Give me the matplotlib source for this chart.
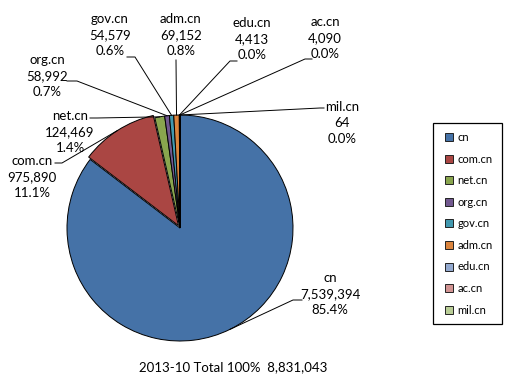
import numpy as np
import matplotlib.pyplot as plt
from matplotlib.lines import Line2D

names = ["cn", "com.cn", "net.cn", "org.cn", "gov.cn", "adm.cn", "edu.cn", "ac.cn", "mil.cn"]
counts = [7539394, 975890, 124469, 58992, 54579, 69152, 4413, 4090, 64]
colors = ["#4572A7", "#AA4643", "#89A54E", "#71588F", "#4198AF",
          "#DB843D", "#93A9CF", "#D19392", "#B9CD96"]
total_label = "2013-10 Total 100%  8,831,043"

# label layout in pixels (text centre, leader tick start/end)
label_pos = [(330, 294), (32, 177), (70, 132), (47, 76), (110, 35),
             (181, 35), (252, 39), (325, 38), (342, 123)]
ticks = [((302, 300), (293, 300)), ((55, 163), (62, 163)), ((90, 118), (97, 118)),
         ((67, 81), (77, 81)), ((127, 57), (135, 57)), ((176, 60), (176, 60)),
         ((237, 61), (230, 61)), ((312, 59), (305, 59)), ((324, 108), (320, 108))]

W, H = 516, 380
cx, cy, R = 180, 228, 113


def px(x, y):
    return (x - cx) / R, (cy - y) / R


plt.rcParams['font.family'] = ['Lato', 'DejaVu Sans']
fig = plt.figure(figsize=(W / 100, H / 100), dpi=100)
ax = fig.add_axes([0, 0, 1, 1])

explode = [0, 0.025, 0, 0, 0, 0, 0, 0, 0]
wedges, _ = ax.pie(counts, colors=colors, startangle=90, counterclock=False,
                   explode=explode, radius=1, center=(0, 0),
                   wedgeprops=dict(edgecolor="black", linewidth=0.7))
ax.set_xlim(-cx / R, (W - cx) / R)
ax.set_ylim((cy - H) / R, cy / R)
ax.axis("off")

tot = sum(counts)
for w, name, c, pos, tk in zip(wedges, names, counts, label_pos, ticks):
    pct = 100.0 * c / tot
    txt = "%s\n%s\n%.1f%%" % (name, format(c, ","), pct)
    x, y = px(*pos)
    ax.text(x, y, txt, ha="center", va="center", fontsize=9.5, linespacing=1.4)
    ang = np.deg2rad((w.theta1 + w.theta2) / 2)
    ex = w.center[0] + w.r * np.cos(ang)
    ey = w.center[1] + w.r * np.sin(ang)
    p0 = px(*tk[0])
    p1 = px(*tk[1])
    ax.plot([p0[0], p1[0], ex], [p0[1], p1[1], ey], color="black", lw=0.7)

x, y = px(233, 367)
ax.text(x, y, total_label, ha="center", va="center", fontsize=9.5)

handles = [Line2D([], [], ls="none", marker="s", markersize=5.5, markerfacecolor=col,
                  markeredgecolor="#222222", markeredgewidth=0.7) for col in colors]
leg = fig.legend(handles, names, loc="upper left",
                 bbox_to_anchor=(433 / W, 1 - 127 / H, 69 / W, 0.01), mode="expand",
                 borderaxespad=0, fontsize=8, handlelength=1.3, handleheight=0.7,
                 handletextpad=0.1, labelspacing=0.95, borderpad=0.8,
                 fancybox=False, framealpha=1)
leg.get_frame().set_edgecolor("black")
leg.get_frame().set_linewidth(0.9)

fig.savefig("out.png", dpi=100)
